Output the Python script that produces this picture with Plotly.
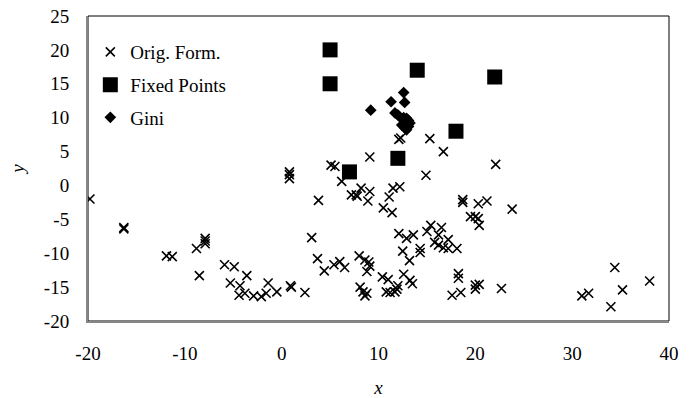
import plotly.graph_objects as go

# Orig. Form. points
orig_x = [-19.8, -16.3, -16.3, -11.9, -11.3, -8.8, -7.9, -7.9, -7.9, -8.5,
          -5.9, -4.9, -3.6, -5.3, -4.3, -4.4, -3.8, -2.9, -2.1, -1.6,
          -1.4, -0.5, 0.9, 1.0, 2.4, 0.8, 0.8, 0.8, 3.8, 3.1,
          3.7, 4.4, 5.4, 6.0, 6.5, 5.1, 5.5, 6.2, 7.2, 7.7,
          7.8, 8.2, 9.1, 8.9, 9.1, 10.5, 11.4, 11.1, 11.5, 12.2,
          12.1, 12.3, 15.3, 16.7, 22.1, 14.9, 8.0, 8.6, 9.0, 9.1,
          8.8, 8.1, 8.4, 8.8, 8.6, 10.4, 11.0, 12.6, 13.25, 13.5,
          12.0, 10.8, 11.2, 11.7, 11.9, 12.1, 12.9, 13.6, 12.5, 13.2,
          14.3, 14.3, 15.0, 15.4, 16.5, 16.2, 17.2, 15.8, 16.2, 16.7,
          17.2, 18.1, 18.7, 18.7, 20.3, 21.2, 23.8, 19.5, 20.0, 20.3,
          20.4, 18.25, 18.25, 17.6, 18.5, 20.0, 20.4, 20.0, 22.7, 31.0,
          31.7, 34.4, 34.0, 35.2, 38.0]
orig_y = [-2.0, -6.2, -6.4, -10.4, -10.5, -9.3, -7.8, -8.2, -8.6, -13.3,
          -11.7, -12.0, -13.3, -14.4, -14.8, -16.2, -15.9, -16.3, -16.4, -15.9,
          -14.4, -15.7, -14.8, -15.0, -15.8, 2.0, 1.6, 1.0, -2.2, -7.7,
          -10.8, -12.6, -11.7, -11.25, -12.1, 3.0, 2.8, 0.6, -1.4, -1.4,
          -1.6, -0.4, -0.9, -2.3, 4.2, -3.3, -4.0, -1.7, -0.4, -0.2,
          6.8, 7.0, 6.9, 5.0, 3.1, 1.5, -10.4, -11.0, -11.3, -11.9,
          -12.7, -15.0, -15.7, -15.9, -16.3, -13.5, -13.9, -13.1, -14.0, -14.5,
          -14.8, -15.7, -15.8, -15.7, -15.3, -7.1, -7.8, -7.3, -9.7, -11.1,
          -9.3, -9.9, -6.8, -5.9, -6.2, -7.3, -8.0, -8.4, -8.8, -9.2,
          -9.3, -9.3, -2.1, -2.5, -2.7, -2.3, -3.5, -4.6, -4.6, -4.9,
          -5.9, -13.0, -13.7, -16.2, -15.8, -14.7, -14.6, -15.3, -15.2, -16.3,
          -15.9, -12.1, -17.9, -15.4, -14.1]

# Fixed Points
fixed_x = [5, 5, 14, 22, 18, 12, 7]
fixed_y = [20, 15, 17, 16, 8, 4, 2]

# Gini
gini_x = [9.2, 11.3, 12.6, 12.7, 11.7, 12.0, 12.2, 12.6, 12.9, 13.1, 13.25, 13.1, 12.9, 12.4, 12.7]
gini_y = [11.1, 12.35, 13.7, 12.25, 10.7, 10.4, 10.1, 10.0, 9.9, 9.6, 9.2, 8.7, 8.2, 8.9, 8.5]

# Tick labels
x_ticks = [-20, -10, 0, 10, 20, 30, 40]
x_labels = ["-20", "-10", "0", "10", "20", "30", "40"]
y_ticks = [-20, -15, -10, -5, 0, 5, 10, 15, 20, 25]
y_labels = ["-20", "-15", "-10", "-5", "0", "5", "10", "15", "20", "25"]

FONT = "Liberation Serif, Times New Roman, serif"
FS = 19

fig = go.Figure()
fig.add_trace(go.Scatter(
    x=orig_x, y=orig_y, mode="markers", name="Orig. Form.",
    legendgroup="a",
    marker=dict(symbol="x-thin-open", size=9, color="black",
                line=dict(color="black", width=1.6))))
fig.add_trace(go.Scatter(
    x=fixed_x, y=fixed_y, mode="markers", name="Fixed Points",
    legendgroup="b",
    marker=dict(symbol="square", size=15, color="black")))
fig.add_trace(go.Scatter(
    x=gini_x, y=gini_y, mode="markers", name="Gini",
    legendgroup="c",
    marker=dict(symbol="diamond", size=9, color="black")))

fig.update_layout(
    width=694, height=398,
    margin=dict(l=88, r=25, t=16, b=77, autoexpand=False),
    paper_bgcolor="white", plot_bgcolor="white",
    font=dict(family=FONT, size=FS, color="black"),
    showlegend=True,
    legend=dict(x=0.004, y=0.944, xanchor="left", yanchor="top",
                bgcolor="rgba(0,0,0,0)", traceorder="grouped",
                tracegroupgap=5, font=dict(family=FONT, size=FS),
                itemsizing="trace"),
    shapes=[dict(type="rect", xref="paper", yref="paper", x0=0, y0=0, x1=1, y1=1,
                 line=dict(color="black", width=1), layer="below")],
)
fig.update_xaxes(range=[-20, 40], tickvals=x_ticks, ticktext=x_labels,
                 showgrid=False, zeroline=False, ticklabeloverflow="allow",
                 showline=True, linecolor="#868686", linewidth=2, automargin=False,
                 ticks="", ticklabelstandoff=14,
                 title=dict(text="<i>x</i>", standoff=20, font=dict(family=FONT, size=FS)))
fig.update_yaxes(range=[-20, 25], tickvals=y_ticks, ticktext=y_labels,
                 showgrid=False, zeroline=False, ticklabeloverflow="allow",
                 showline=True, linecolor="#868686", linewidth=2, automargin=False,
                 ticks="", ticklabelstandoff=13,
                 title=dict(text="<i>y</i>", standoff=14, font=dict(family=FONT, size=FS)))

fig.write_html("out.html",
               config={"displayModeBar": False},
               post_script="document.body.style.margin='0';document.body.style.overflow='hidden';")
